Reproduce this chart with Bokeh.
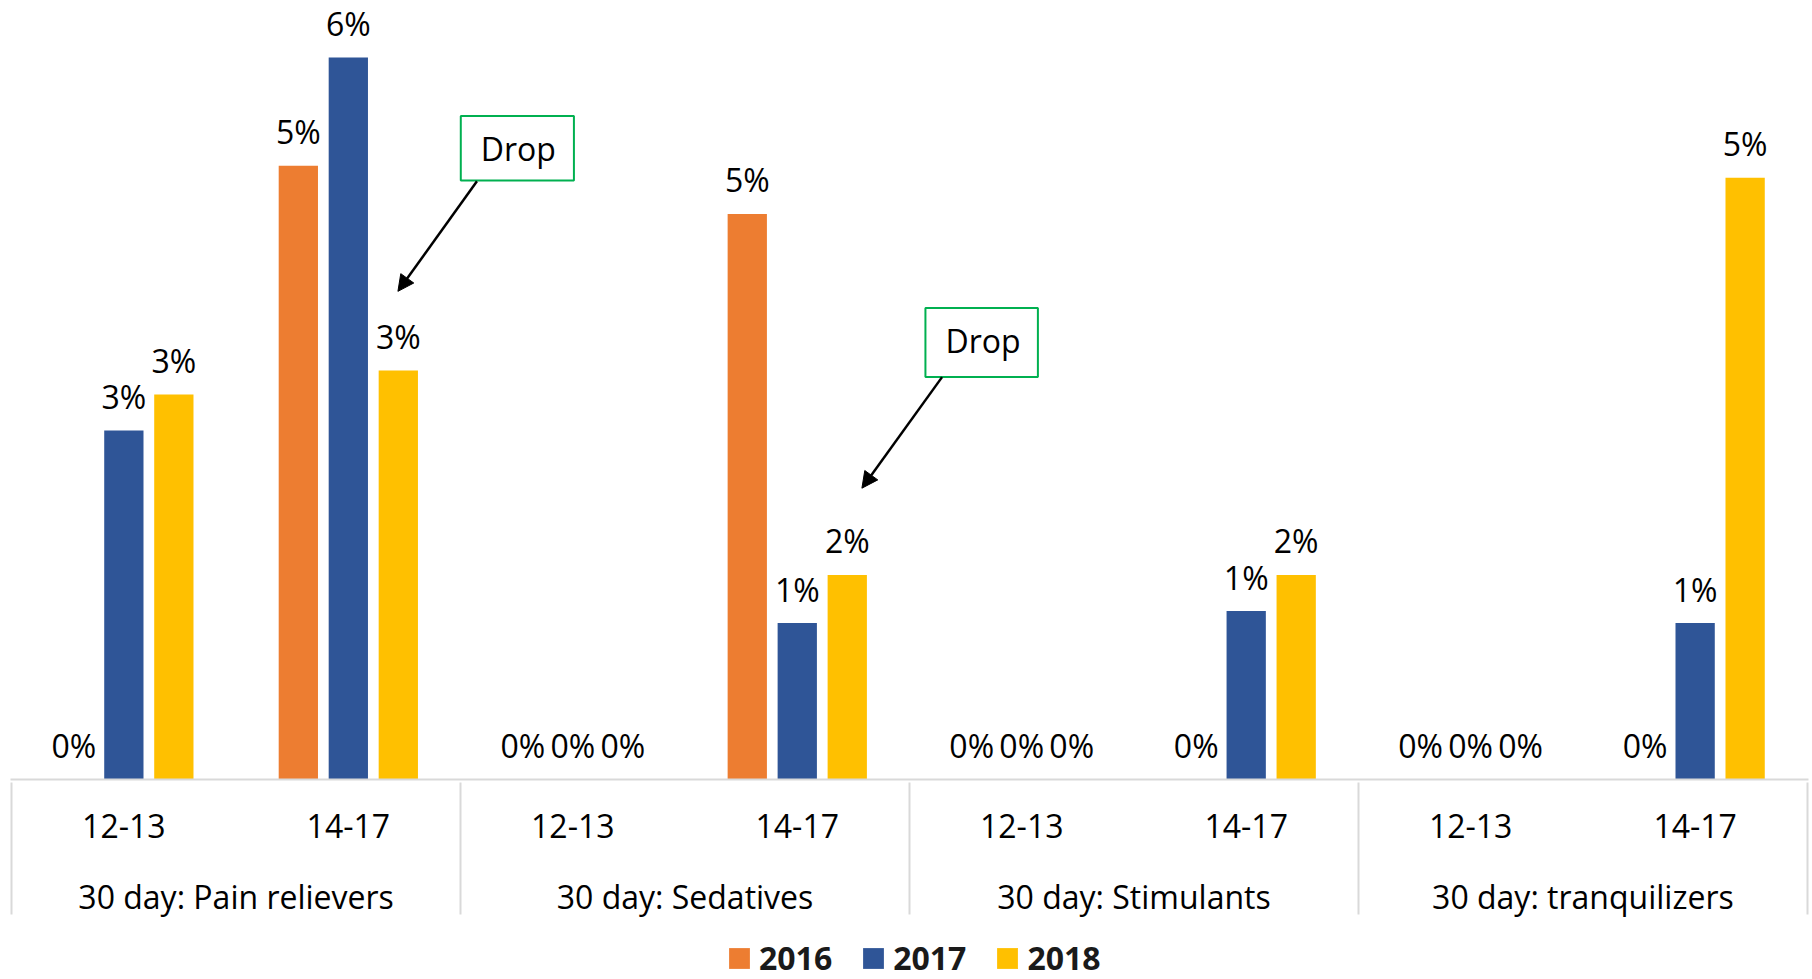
from bokeh.plotting import figure
from bokeh.layouts import column
from bokeh.models import (FactorRange, Range1d, ColumnDataSource, Legend, LegendItem,
                          Arrow, NormalHead)
from bokeh.transform import dodge
from bokeh.core.properties import value
from bokeh.embed import file_html
from bokeh.resources import INLINE

# ---------------- data ----------------
groups = ["30 day: Pain relievers", "30 day: Sedatives", "30 day: Stimulants", "30 day: tranquilizers"]
ages = ["12-13", "14-17"]
years = ["2016", "2017", "2018"]
# percent values, one per (group, age) pair in order
v2016 = [0.0, 5.1, 0.0, 4.7, 0.0, 0.0, 0.0, 0.0]
v2017 = [2.9, 6.0, 0.0, 1.3, 0.0, 1.4, 0.0, 1.3]
v2018 = [3.2, 3.4, 0.0, 1.7, 0.0, 1.7, 0.0, 5.0]
colors = ["#ED7D31", "#2F5597", "#FFC000"]

FONT = "Open Sans"

factors = [(g, a) for g in groups for a in ages]
# empty edge groups (hidden just outside the range) so that the axis draws
# separator lines at the outer left/right edges as well
all_factors = [(" ", " ")] + factors + [("  ", "  ")]

src = ColumnDataSource(dict(
    x=factors,
    y2016=v2016, y2017=v2017, y2018=v2018,
    l2016=[f"{round(v)}%" for v in v2016],
    l2017=[f"{round(v)}%" for v in v2017],
    l2018=[f"{round(v)}%" for v in v2018],
))

x_range = FactorRange(*all_factors, factor_padding=0, subgroup_padding=0, group_padding=0,
                      range_padding=-0.995, range_padding_units="absolute")

p = figure(x_range=x_range, y_range=Range1d(0, 6.474),
           frame_width=1798, frame_height=779,
           min_border_left=10, min_border_right=4, min_border_top=0, min_border_bottom=0,
           y_axis_location=None, toolbar_location=None, output_backend="svg",
           background_fill_color="white", border_fill_color="white")
p.outline_line_color = None
p.xgrid.visible = False
p.ygrid.visible = False

ax = p.xaxis[0]
ax.axis_line_color = "#D9D9D9"
ax.axis_line_width = 2
ax.major_tick_line_color = None
ax.major_tick_in = 0
ax.major_tick_out = 0
ax.minor_tick_line_color = None
ax.major_label_standoff = 34
ax.major_label_text_font = FONT
ax.major_label_text_font_size = "32px"
ax.major_label_text_color = "black"
ax.group_text_font = FONT
ax.group_text_font_size = "32px"
ax.group_text_font_style = "normal"
ax.group_text_color = "black"
ax.separator_line_color = "#D9D9D9"
ax.separator_line_width = 2

offsets = [-0.2227, 0.0, 0.2227]
for yr, off, col in zip(years, offsets, colors):
    p.vbar(x=dodge("x", off, range=p.x_range), top="y" + yr, width=0.175,
           source=src, fill_color=col, line_color=None)
    p.text(x=dodge("x", off, range=p.x_range), y="y" + yr, text="l" + yr, source=src,
           y_offset=-34, text_align="center", text_baseline="alphabetic",
           text_font=value(FONT), text_font_size="32px", text_color="black")

# ---------------- "Drop" call-outs (synthetic x units: one unit per age bar group) ----------------
callouts = [
    dict(l=3.001, r=3.505, b=4.979, t=5.514, tx=3.257, ty=5.137, sx=3.073, sy=4.971, ex=2.721, ey=4.057),
    dict(l=5.071, r=5.572, b=3.344, t=3.918, tx=5.328, ty=3.539, sx=5.145, sy=3.344, ex=4.788, ey=2.421),
]
for c in callouts:
    p.add_layout(Arrow(end=NormalHead(size=16, fill_color="black", line_color="black"),
                       x_start=c["sx"], y_start=c["sy"], x_end=c["ex"], y_end=c["ey"],
                       line_color="black", line_width=2.5))
    p.quad(left=[c["l"]], right=[c["r"]], bottom=[c["b"]], top=[c["t"]],
           fill_color="white", line_color="#00B050", line_width=2)
    p.text(x=[c["tx"]], y=[c["ty"]], text=["Drop"], text_align="center",
           text_baseline="alphabetic", y_offset=-13, text_font=value(FONT),
           text_font_size="32px", text_color="black")

# ---------------- legend strip below the chart ----------------
lg = figure(width=1812, height=60, x_range=Range1d(0, 1), y_range=Range1d(0, 1),
            min_border=0, x_axis_location=None, y_axis_location=None,
            toolbar_location=None, output_backend="svg",
            background_fill_color="white", border_fill_color="white")
lg.outline_line_color = None
lg.xgrid.visible = False
lg.ygrid.visible = False
items = []
for yr, col in zip(years, colors):
    # keyed swatch renderer, placed outside the visible range
    r = lg.vbar(x=[-10], top=[-10], width=0.1, fill_color=col, line_color=None)
    items.append(LegendItem(label=yr, renderers=[r]))
legend = Legend(items=items, orientation="horizontal", location=(716, 1),
                label_text_font=FONT, label_text_font_style="bold", label_text_font_size="32px",
                label_text_color="#1a1a1a",
                glyph_width=26, glyph_height=26, label_standoff=7, spacing=28,
                padding=0, margin=0, border_line_color=None, background_fill_alpha=0)
lg.add_layout(legend)

open("out.html", "w").write(file_html(column(p, lg, spacing=0), INLINE))
